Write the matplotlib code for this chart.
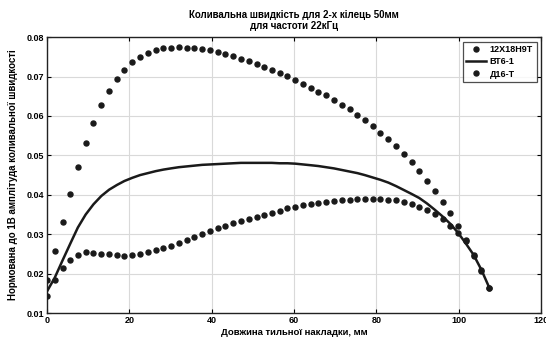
import matplotlib
matplotlib.use("Agg")
import matplotlib.pyplot as plt

# Values (length in mm, normalised amplitude)
LENGTH_MM = [
	0.0, 1.9, 3.8, 5.7, 7.5, 9.4, 11.3, 13.2, 15.1, 17.0,
	18.8, 20.7, 22.6, 24.5, 26.4, 28.3, 30.1, 32.0, 33.9, 35.8,
	37.7, 39.6, 41.5, 43.3, 45.2, 47.1, 49.0, 50.9, 52.8, 54.6,
	56.5, 58.4, 60.3, 62.2, 64.1, 65.9, 67.8, 69.7, 71.6, 73.5,
	75.4, 77.2, 79.1, 81.0, 82.9, 84.8, 86.7, 88.6, 90.4, 92.3,
	94.2, 96.1, 98.0, 99.9, 101.7, 103.6, 105.5, 107.4,
]

STEEL_12X18H9T = [
	0.0184, 0.0257, 0.0332, 0.0403, 0.0471, 0.0531, 0.0583, 0.0627, 0.0664, 0.0693,
	0.0717, 0.0736, 0.0749, 0.0759, 0.0766, 0.0771, 0.0773, 0.0775, 0.0773, 0.0771,
	0.0769, 0.0766, 0.0761, 0.0756, 0.0751, 0.0744, 0.0739, 0.0732, 0.0725, 0.0716,
	0.0709, 0.0701, 0.0691, 0.0682, 0.0672, 0.0661, 0.0652, 0.0640, 0.0629, 0.0617,
	0.0603, 0.0590, 0.0574, 0.0558, 0.0542, 0.0523, 0.0504, 0.0482, 0.0460, 0.0436,
	0.0410, 0.0382, 0.0353, 0.0321, 0.0286, 0.0246, 0.0208, 0.0164,
]

TITAN_VT6_1 = [
	0.0155, 0.0190, 0.0234, 0.0277, 0.0317, 0.0350, 0.0376, 0.0397, 0.0413, 0.0425,
	0.0435, 0.0443, 0.0450, 0.0455, 0.0460, 0.0464, 0.0467, 0.0470, 0.0472, 0.0474,
	0.0476, 0.0477, 0.0478, 0.0479, 0.0480, 0.0481, 0.0481, 0.0481, 0.0481, 0.0481,
	0.0480, 0.0480, 0.0479, 0.0477, 0.0475, 0.0473, 0.0470, 0.0467, 0.0463, 0.0459,
	0.0455, 0.0450, 0.0444, 0.0438, 0.0431, 0.0422, 0.0412, 0.0402, 0.0392, 0.0378,
	0.0362, 0.0345, 0.0326, 0.0303, 0.0277, 0.0248, 0.0210, 0.0165,
]

ALU_D16T = [
	0.0143, 0.0184, 0.0215, 0.0234, 0.0248, 0.0254, 0.0253, 0.0251, 0.0249, 0.0247,
	0.0246, 0.0247, 0.0249, 0.0254, 0.0259, 0.0264, 0.0271, 0.0278, 0.0285, 0.0293,
	0.0301, 0.0309, 0.0316, 0.0321, 0.0328, 0.0333, 0.0338, 0.0344, 0.0349, 0.0355,
	0.0360, 0.0366, 0.0370, 0.0374, 0.0377, 0.0380, 0.0382, 0.0385, 0.0387, 0.0388,
	0.0389, 0.0390, 0.0390, 0.0389, 0.0388, 0.0386, 0.0382, 0.0377, 0.0370, 0.0362,
	0.0351, 0.0338, 0.0322, 0.0302, 0.0284, 0.0247, 0.0210, 0.0165,
]

LABELS = ["12Х18Н9Т", "ВТ6-1", "Д16-Т"]
X_TICKS = [0, 20, 40, 60, 80, 100, 120]
Y_TICKS = [0.01, 0.02, 0.03, 0.04, 0.05, 0.06, 0.07, 0.08]

plt.rcParams["font.family"] = ["Liberation Sans", "DejaVu Sans"]
plt.rcParams["font.weight"] = "bold"

fig = plt.figure(figsize=(5.46, 3.4), dpi=100)
ax = fig.add_axes([0.086, 0.079, 0.905, 0.812])

ax.plot(LENGTH_MM, STEEL_12X18H9T, linestyle="none", marker="o", markersize=3.6,
		color="#1a1a1a", label=LABELS[0], zorder=3)
ax.plot(LENGTH_MM, TITAN_VT6_1, linestyle="-", linewidth=1.8,
		color="#1a1a1a", label=LABELS[1], zorder=3)
ax.plot(LENGTH_MM, ALU_D16T, linestyle="none", marker="o", markersize=3.6,
		color="#1a1a1a", label=LABELS[2], zorder=3)

ax.set_xlim(0, 120)
ax.set_ylim(0.01, 0.08)
ax.set_xticks(X_TICKS)
ax.set_yticks(Y_TICKS)
ax.set_xticklabels([str(t) for t in X_TICKS])
ax.set_yticklabels([f"{t:.2f}" for t in Y_TICKS])
ax.tick_params(direction="in", top=True, right=True, labelsize=6.5, length=3,
			   width=0.8, pad=2)
ax.grid(True, color="#d9d9d9", linewidth=0.8)
for s in ax.spines.values():
	s.set_linewidth(1.0)
	s.set_color("#222222")

ax.set_title("Коливальна швидкість для 2-х кілець 50мм\nдля частоти 22кГц",
			 fontsize=7, fontweight="bold", pad=6, linespacing=1.1)
ax.set_xlabel("Довжина тильної накладки, мм", fontsize=6.8, fontweight="bold", labelpad=2)
ax.set_ylabel("Нормована до 1В амплітуда коливальної швидкості", fontsize=7,
			  fontweight="bold", labelpad=6)

leg = ax.legend(loc="upper right", fontsize=6.5, frameon=True, fancybox=False,
				borderpad=0.4, labelspacing=0.35, handlelength=2.2, handletextpad=0.4,
				borderaxespad=0.5)
leg.get_frame().set_edgecolor("#222222")
leg.get_frame().set_linewidth(0.9)

fig.savefig("out.png", dpi=100)
